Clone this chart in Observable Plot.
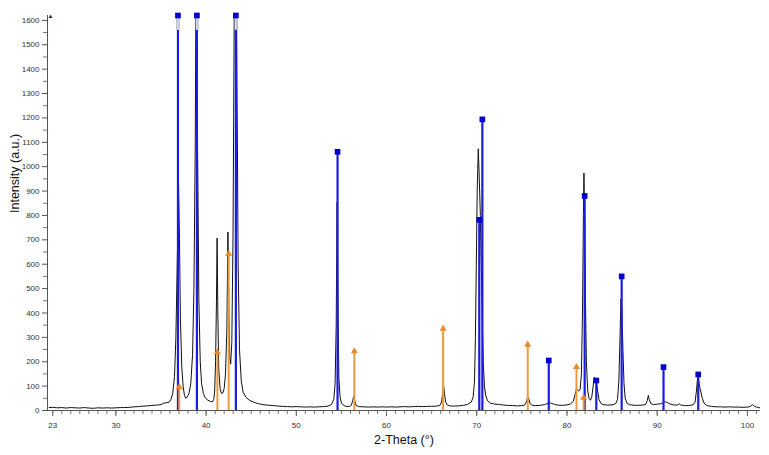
<!DOCTYPE html>
<html>
<head>
<meta charset="utf-8">
<script src="https://cdn.jsdelivr.net/npm/d3@7"></script>
<script src="https://cdn.jsdelivr.net/npm/@observablehq/plot@0.6"></script>
<style>
  html, body { margin: 0; padding: 0; background: #fff; }
  #chart svg { display: block; }
</style>
</head>
<body>
<div id="chart"></div>
<script>
// Measured XRD pattern: 2-Theta (deg) and intensity (a.u.)
const twoTheta = [22.6,23,23.5,24,24.5,25,25.5,26,26.5,27,27.5,28,28.5,29,29.5,30,30.5,31,31.5,32,32.5,33,33.5,34,34.5,35,35.3,35.6,35.9,36.1,36.3,36.5,36.65,36.8,36.95,37.05,37.15,37.3,37.45,37.6,37.75,37.9,38.1,38.3,38.5,38.65,38.8,38.95,39.05,39.2,39.35,39.5,39.7,39.9,40.2,40.5,40.7,40.85,40.95,41.05,41.15,41.22,41.3,41.4,41.55,41.7,41.85,42.0,42.15,42.3,42.42,42.52,42.62,42.72,42.85,42.98,43.1,43.25,43.4,43.55,43.7,43.9,44.1,44.4,44.8,45.3,45.8,46.3,46.8,47.5,48,48.5,49,49.5,50,50.5,51,51.5,52,52.5,53,53.5,53.9,54.15,54.3,54.42,54.52,54.62,54.72,54.85,55.0,55.3,55.6,55.9,56.1,56.25,56.35,56.45,56.6,56.9,57.5,58,58.5,59,59.5,60,60.5,61,61.5,62,62.5,63,63.5,64,64.5,65,65.5,65.9,66.1,66.25,66.32,66.42,66.55,66.75,67,67.5,68,68.5,69,69.4,69.6,69.75,69.85,69.95,70.05,70.17,70.28,70.4,70.5,70.6,70.72,70.85,71.0,71.2,71.5,71.8,72,72.5,73,73.5,74,74.5,75,75.3,75.5,75.65,75.75,75.9,76.1,76.5,77,77.5,77.8,78.05,78.3,78.6,79,79.5,80,80.4,80.7,80.9,81.05,81.15,81.3,81.45,81.6,81.72,81.82,81.88,81.95,82.05,82.15,82.3,82.45,82.6,82.75,82.9,83.02,83.12,83.25,83.4,83.55,83.75,84,84.5,85,85.4,85.6,85.75,85.88,85.98,86.08,86.2,86.32,86.45,86.65,86.9,87.3,87.8,88.3,88.7,88.9,89.02,89.12,89.3,89.6,90,90.4,90.7,90.9,91.1,91.4,91.8,92.2,92.45,92.6,93,93.5,94,94.2,94.35,94.48,94.58,94.72,94.85,95.0,95.2,95.5,96,96.5,97,97.5,98,98.5,99,99.5,100,100.3,100.55,100.75,101,101.2,101.4];
const intensity = [12,13,11,12,10,12,11,10,12,10,9,11,10,11,10,11,12,12,13,15,16,18,19,21,22,24,30,32,34,45,70,140,300,600,915,700,380,180,100,62,50,55,70,110,230,500,1100,2400,1100,450,200,110,70,52,42,37,36,45,80,200,450,707,400,170,90,70,72,90,150,330,732,420,220,190,280,700,1500,2600,1500,600,250,120,75,55,42,34,28,24,22,20,18,17,16,15,16,15,14,15,14,15,16,18,25,45,110,350,855,400,130,55,30,20,16,17,22,40,58,45,22,16,15,14,15,14,15,14,15,14,15,16,15,16,17,16,17,17,18,20,35,80,105,70,35,22,19,18,19,21,25,35,55,120,300,600,900,1073,950,800,600,400,200,100,60,40,30,28,26,25,22,21,20,19,20,22,35,55,50,30,22,20,21,24,28,32,29,25,22,21,23,27,38,65,89,85,80,85,150,400,800,974,800,450,200,80,50,42,55,100,137,130,120,80,45,30,24,22,23,28,45,120,300,458,420,250,110,50,30,24,22,21,22,24,40,62,45,28,24,26,28,32,36,33,27,23,22,27,23,20,20,24,35,80,137,125,95,75,50,30,20,17,15,15,14,15,14,14,13,14,16,24,18,14,12,11];

// Reference phase 1 (blue, square markers)
const phase1Pos = [36.88, 38.98, 43.3, 54.57, 70.28, 70.62, 77.98, 81.96, 83.25, 86.06, 90.7, 94.55];
const phase1Int = [2000, 2400, 2600, 1061, 782, 1194, 205, 880, 123, 550, 178, 148];

// Reference phase 2 (orange, triangle markers)
const phase2Pos = [37.02, 41.25, 42.5, 56.43, 66.27, 75.65, 81.05, 81.85];
const phase2Int = [96, 239, 643, 243, 335, 270, 178, 52];

// Axes
const xTickLabels = [23, 30, 40, 50, 60, 70, 80, 90, 100];
const yTickLabels = [0, 100, 200, 300, 400, 500, 600, 700, 800, 900, 1000, 1100, 1200, 1300, 1400, 1500, 1600];
const xDomain = [22.42, 101.45];
const yDomain = [0, 1620];
const xTitle = "2-Theta (°)";
const yTitle = "Intensity (a.u.)";

const pattern = twoTheta.map((t, i) => ({t, v: intensity[i]}));
const yTop = yDomain[1];
const capStart = 1560;
const p1 = phase1Pos.map((t, i) => ({t, v: phase1Int[i], shown: Math.min(phase1Int[i], yTop), clipped: phase1Int[i] > yTop}));
const p2 = phase2Pos.map((t, i) => ({t, v: phase2Int[i]}));
const p1clipped = p1.filter(d => d.clipped);

const yMinor = d3.range(50, 1600, 100);
const xMinor = d3.range(23, 102, 1);

const chart = Plot.plot({
  width: 769,
  height: 455,
  marginLeft: 47,
  marginRight: 9,
  marginTop: 15,
  marginBottom: 45,
  x: {domain: xDomain},
  y: {domain: yDomain},
  style: {fontFamily: "'Liberation Sans', Arial, sans-serif", fontSize: "8px", color: "#333", background: "#fff", overflow: "visible"},
  marks: [
    Plot.axisY({ticks: yTickLabels, tickSize: 5, tickPadding: 3, label: null, stroke: "#555", fill: "#333", tickFormat: d => String(d)}),
    Plot.axisY({ticks: yMinor, tickSize: 4, text: null, label: null, stroke: "#777"}),
    Plot.axisX({ticks: xTickLabels, tickSize: 6, tickPadding: 6, label: null, stroke: "#555", fill: "#333", tickFormat: d => String(d)}),
    Plot.axisX({ticks: xMinor, tickSize: 4, text: null, label: null, stroke: "#777"}),
    Plot.ruleY([0], {stroke: "#555", strokeWidth: 1}),
    Plot.ruleX([xDomain[0]], {stroke: "#555", strokeWidth: 1}),
    Plot.text(["▲"], {frameAnchor: "top-left", fontSize: 6, dy: -2, fill: "#222"}),
    Plot.line(pattern, {x: "t", y: "v", stroke: "#111", strokeWidth: 1, clip: true}),
    // phase 1 sticks
    Plot.ruleX(p1, {x: "t", y1: 0, y2: d => d.clipped ? capStart : d.v, stroke: "#1c1ce0", strokeWidth: 2.2}),
    Plot.ruleX(p1clipped, {x: "t", y1: capStart, y2: yTop, stroke: "#8a8ab0", strokeWidth: 3}),
    Plot.ruleX(p1clipped, {x: "t", y1: capStart, y2: yTop, stroke: "#fff", strokeWidth: 1.2}),
    Plot.dot(p1, {x: "t", y: "shown", symbol: "square", r: 3.2, fill: "#0000c8", stroke: null}),
    // phase 2 sticks
    Plot.ruleX(p2, {x: "t", y1: 0, y2: "v", stroke: "#ec9a3c", strokeWidth: 2}),
    Plot.dot(p2, {x: "t", y: "v", symbol: "triangle", r: 2.6, fill: "#e8892a", stroke: null}),
    // axis titles
    Plot.text([yTitle], {frameAnchor: "left", dx: -33, rotate: -90, fontSize: 12.5, fill: "#111"}),
    Plot.text([xTitle], {frameAnchor: "bottom", dy: 33, fontSize: 12.5, fill: "#111"})
  ]
});
document.getElementById("chart").appendChild(chart);
</script>
</body>
</html>
